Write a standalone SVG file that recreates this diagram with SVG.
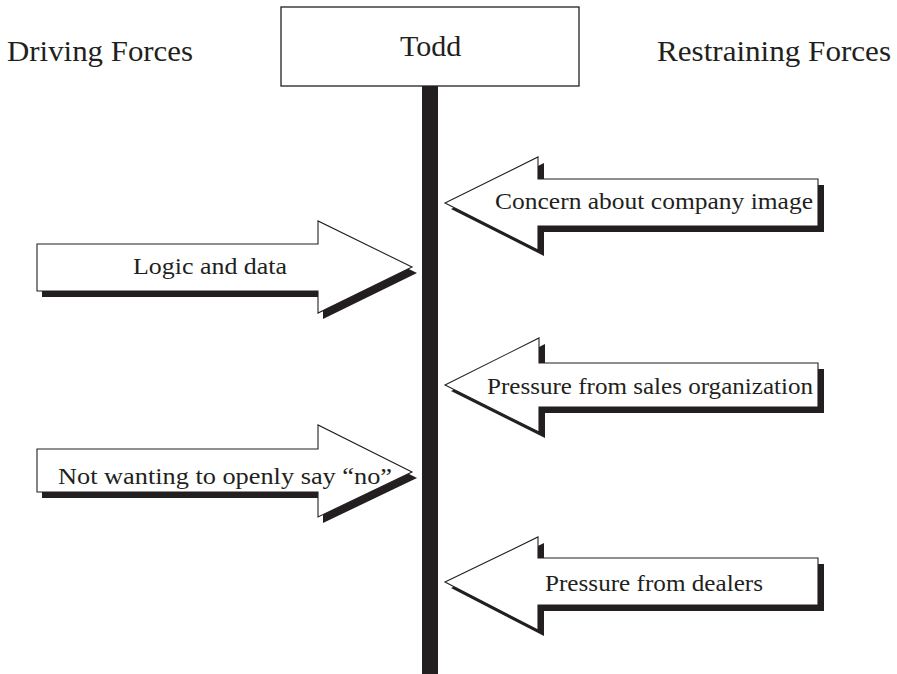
<svg xmlns="http://www.w3.org/2000/svg" xmlns:xlink="http://www.w3.org/1999/xlink" width="897" height="674" viewBox="0 0 897 674">
<style>
  .title { font-family: "Liberation Serif", "Times New Roman", serif; font-size: 29px; fill: #231f20; }
  .todd { font-family: "Liberation Serif", "Times New Roman", serif; font-size: 30px; fill: #231f20; }
  .lbl { font-family: "Liberation Serif", "Times New Roman", serif; font-size: 23px; fill: #231f20; }
  .shadow { fill: #231f20; stroke: none; }
  .arrow { fill: #ffffff; stroke: #231f20; stroke-width: 1.1; stroke-linejoin: miter; }
  .box { fill: #ffffff; stroke: #231f20; stroke-width: 1.3; }
  .bar { fill: #231f20; }
</style>
<defs>
  <polygon id="a1" points="37,244 318,244 318,221 412,267 318,313 318,291 37,291"/>
  <polygon id="a2" points="37,449 318,449 318,425 412,472 318,517 318,492 37,492"/>
  <polygon id="r1" points="445,203 538,157 538,179 818,179 818,226 538,226 538,250"/>
  <polygon id="r2" points="445,385 539,338 539,363 818,363 818,407 539,407 539,432"/>
  <polygon id="r3" points="445,582 538,537 538,558 818,558 818,605 538,605 538,630"/>
</defs>
<rect width="897" height="674" fill="#ffffff"/>

<text class="title" x="7" y="61" textLength="186" lengthAdjust="spacingAndGlyphs">Driving Forces</text>
<text class="title" x="657" y="61" textLength="234" lengthAdjust="spacingAndGlyphs">Restraining Forces</text>

<g id="connectors">
  <rect class="bar" x="422" y="86" width="16" height="588"/>
</g>

<g id="todd">
  <rect class="box" x="281" y="7" width="298" height="79"/>
  <text class="todd" x="400" y="56">Todd</text>
</g>

<g id="logic">
  <use xlink:href="#a1" class="shadow" transform="translate(5,6)"/>
  <use xlink:href="#a1" class="arrow"/>
  <text class="lbl" x="133" y="274" textLength="154" lengthAdjust="spacingAndGlyphs">Logic and data</text>
</g>

<g id="notwanting">
  <use xlink:href="#a2" class="shadow" transform="translate(5,6)"/>
  <use xlink:href="#a2" class="arrow"/>
  <text class="lbl" x="58" y="484" textLength="334" lengthAdjust="spacingAndGlyphs">Not wanting to openly say “no”</text>
</g>

<g id="concern">
  <use xlink:href="#r1" class="shadow" transform="translate(6,6)"/>
  <use xlink:href="#r1" class="arrow"/>
  <text class="lbl" x="495" y="209" textLength="318" lengthAdjust="spacingAndGlyphs">Concern about company image</text>
</g>

<g id="sales">
  <use xlink:href="#r2" class="shadow" transform="translate(6,6)"/>
  <use xlink:href="#r2" class="arrow"/>
  <text class="lbl" x="487" y="394" textLength="326" lengthAdjust="spacingAndGlyphs">Pressure from sales organization</text>
</g>

<g id="dealers">
  <use xlink:href="#r3" class="shadow" transform="translate(6,6)"/>
  <use xlink:href="#r3" class="arrow"/>
  <text class="lbl" x="545" y="591" textLength="218" lengthAdjust="spacingAndGlyphs">Pressure from dealers</text>
</g>
</svg>
